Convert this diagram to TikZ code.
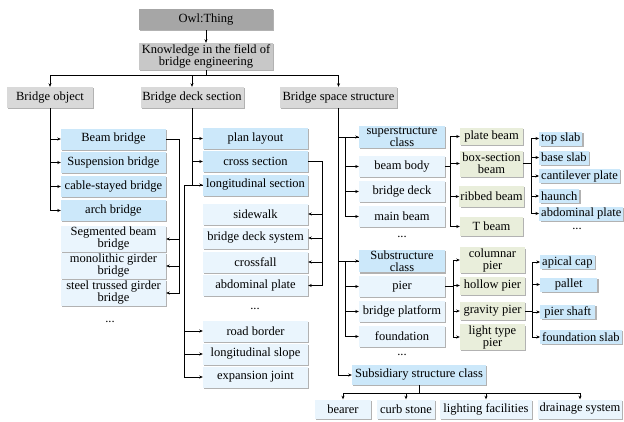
\documentclass[tikz,border=0pt]{standalone}
\usepackage{fontspec}
\setmainfont{Liberation Serif}
\usepackage{tikz}
\usetikzlibrary{arrows.meta,shadows}
\definecolor{owlgray}{HTML}{A6A6A6}
\definecolor{knowgray}{HTML}{C8C8C8}
\definecolor{topgray}{HTML}{D9D9D9}
\definecolor{skyfill}{HTML}{CCE8FA}
\definecolor{palefill}{HTML}{EAF5FD}
\definecolor{olivefill}{HTML}{E9EEDB}

\begin{document}
\begin{tikzpicture}[x=1pt,y=-1pt,
  base/.style={minimum height=21pt,inner sep=1pt,align=center,
               font=\fontsize{12.5}{12}\selectfont,
               drop shadow={shadow xshift=1.3pt,shadow yshift=-1.3pt,fill=black!60,opacity=.5}},
  grey/.style={base,fill=topgray},
  sky/.style={base,fill=skyfill},
  pale/.style={base,fill=palefill},
  olive/.style={base,fill=olivefill},
  leaf/.style={base,fill=skyfill,minimum height=14pt,inner xsep=2pt,anchor=west},
  dots/.style={inner sep=0pt,font=\fontsize{12.5}{12}\selectfont},
  ln/.style={line width=0.9pt},
  arr/.style={-{Stealth[length=3.5pt,width=3pt]},line width=0.9pt}]
\useasboundingbox (0,0) rectangle (624,421);
\node[base,fill=owlgray,minimum width=134pt] (owl) at (206,19.5) {Owl:Thing};
\node[base,fill=knowgray,minimum width=134pt,minimum height=27pt] (know) at (206,56.5)
  {Knowledge in the field of\\bridge engineering};
\node[grey,minimum width=86pt]  (obj)   at (50,97.5)    {Bridge object};
\node[grey,minimum width=103pt] (deck)  at (192,97.5)   {Bridge deck section};
\node[grey,minimum width=117pt] (space) at (338.5,97.5) {Bridge space structure};
\draw[arr] (owl) -- (know);
\draw[ln] (know.south) -- ++(0,5) coordinate (hub);
\foreach \v in {obj,deck,space}{\draw[arr] (hub) -| (\v.north);}

% bridge object
\node[sky,minimum width=105pt]  (beam)  at (113.5,139)   {Beam bridge};
\node[sky,minimum width=105pt]  (susp)  at (113.5,162.5) {Suspension bridge};
\node[sky,minimum width=105pt]  (cable) at (113.5,186.5) {cable-stayed bridge};
\node[sky,minimum width=105pt]  (arch)  at (113.5,210.5) {arch bridge};
\node[pale,minimum width=105pt,minimum height=26pt] (seg)   at (113.5,239) {Segmented beam\\bridge};
\node[pale,minimum width=105pt,minimum height=26pt] (mono)  at (113.5,266) {monolithic girder\\bridge};
\node[pale,minimum width=105pt,minimum height=26pt] (steel) at (113.5,293) {steel trussed girder\\bridge};
\node[dots] (etcA) at (110,322) {...};
\foreach \v in {beam,susp,cable,arch}{\draw[arr] (obj.south) |- (\v.west);}
\foreach \v in {seg,mono,steel}{\draw[arr] (beam.east) -- ++(13,0) |- (\v.east);}

% bridge deck section
\node[sky,minimum width=105pt]  (plan)  at (255.5,138.5) {plan layout};
\node[sky,minimum width=105pt]  (cross) at (255.5,161.5) {cross section};
\node[sky,minimum width=105pt]  (long)  at (255.5,185)   {longitudinal section};
\node[pale,minimum width=105pt] (side)  at (255.5,214)   {sidewalk};
\node[pale,minimum width=105pt] (sys)   at (255.5,238)   {bridge deck system};
\node[pale,minimum width=105pt] (fall)  at (255.5,262)   {crossfall};
\node[pale,minimum width=105pt] (abd)   at (255.5,285.5) {abdominal plate};
\node[dots] (etcB) at (255,309) {...};
\node[pale,minimum width=105pt] (road)  at (255.5,331)   {road border};
\node[pale,minimum width=105pt] (slope) at (255.5,354)   {longitudinal slope};
\node[pale,minimum width=105pt] (joint) at (255.5,377)   {expansion joint};
\foreach \v in {plan,cross,long}{\draw[arr] (deck.south) |- (\v.west);}
\foreach \v in {side,sys,fall,abd}{\draw[arr] (cross.east) -- ++(14,0) |- (\v.east);}
\foreach \v in {road,slope,joint}{\draw[arr] (long.west) -- ++(-18,0) |- (\v.west);}

% bridge space structure
\node[sky,minimum width=86pt,minimum height=22pt] (super) at (402,137) {superstructure\\class};
\node[pale,minimum width=86pt] (body)  at (402,166.5) {beam body};
\node[pale,minimum width=86pt] (bdeck) at (402,191.5) {bridge deck};
\node[pale,minimum width=86pt] (mbeam) at (402,216.5) {main beam};
\node[dots] (etcC) at (402,237) {...};
\node[sky,minimum width=86pt,minimum height=22pt] (sub) at (402,261) {Substructure\\class};
\node[pale,minimum width=86pt] (pier)  at (402,286.5) {pier};
\node[pale,minimum width=86pt] (plat)  at (402,311.5) {bridge platform};
\node[pale,minimum width=86pt] (found) at (402,336.5) {foundation};
\node[dots] (etcD) at (402,355) {...};
\node[sky,minimum width=134pt,minimum height=20pt] (subs) at (419,375) {Subsidiary structure class};
\foreach \v in {super,sub,subs}{\draw[arr] (space.south) |- (\v.west);}
\foreach \v in {body,bdeck,mbeam}{\draw[arr] (super.west) -- ++(-13,0) |- (\v.west);}
\foreach \v in {pier,plat,found}{\draw[arr] (sub.west) -- ++(-13,0) |- (\v.west);}

\node[pale,minimum width=56pt,minimum height=19pt] (bearer) at (343,409) {bearer};
\node[pale,minimum width=58pt,minimum height=19pt] (curb)   at (406,409) {curb stone};
\node[pale,minimum width=92pt,minimum height=19pt] (light)  at (486,409) {lighting facilities};
\node[pale,minimum width=84pt,minimum height=19pt] (drain)  at (580,409) {drainage system};
\draw[ln] (subs.south) -- ++(0,8) coordinate (bhub);
\foreach \v in {bearer,curb,light,drain}{\draw[arr] (bhub) -| (\v.north);}

% beam body
\node[olive,minimum width=63pt,minimum height=17pt] (plate)  at (491.5,136.5) {plate beam};
\node[olive,minimum width=63pt,minimum height=26pt] (box)    at (491.5,163.5) {box-section\\beam};
\node[olive,minimum width=63pt] (ribbed) at (491.5,196.5) {ribbed beam};
\node[olive,minimum width=63pt,minimum height=19pt] (tbeam)  at (491.5,226.5) {T beam};
\foreach \v in {plate,box,ribbed,tbeam}{\draw[arr] (body.east) -- ++(5,0) |- (\v.west);}

\node[leaf] (top)   at (539,138.5) {top slab};
\node[leaf] (bslab) at (539,157.5) {base slab};
\node[leaf] (cant)  at (539,176)   {cantilever plate};
\node[leaf] (haun)  at (539,196)   {haunch};
\node[leaf] (abdp)  at (539,213.5) {abdominal plate};
\node[dots] (etcE) at (577,229) {...};
\foreach \v in {top,bslab,cant,haun,abdp}{\draw[arr] (box.east) -- ++(8,0) |- (\v.west);}

% pier
\node[olive,minimum width=65pt,minimum height=24pt] (colp)  at (492.5,260)   {columnar\\pier};
\node[olive,minimum width=65pt,minimum height=18pt] (holp)  at (492.5,285.5) {hollow pier};
\node[olive,minimum width=65pt,minimum height=18pt] (gravp) at (492.5,311)   {gravity pier};
\node[olive,minimum width=65pt,minimum height=22pt] (lightp) at (492.5,337)  {light type\\pier};
\foreach \v in {colp,holp,gravp,lightp}{\draw[arr] (pier.east) -- ++(8,0) |- (\v.west);}

\node[leaf,minimum width=53pt] (cap)    at (540,262)   {apical cap};
\node[leaf,minimum width=57pt] (pallet) at (540,284.5) {pallet};
\node[leaf,minimum width=55pt] (shaft)  at (540,312)   {pier shaft};
\node[leaf] (fslab)  at (540,337)   {foundation slab};
\foreach \v in {cap,pallet,shaft,fslab}{\draw[arr] (gravp.east) -- ++(7,0) |- (\v.west);}
\end{tikzpicture}
\end{document}
